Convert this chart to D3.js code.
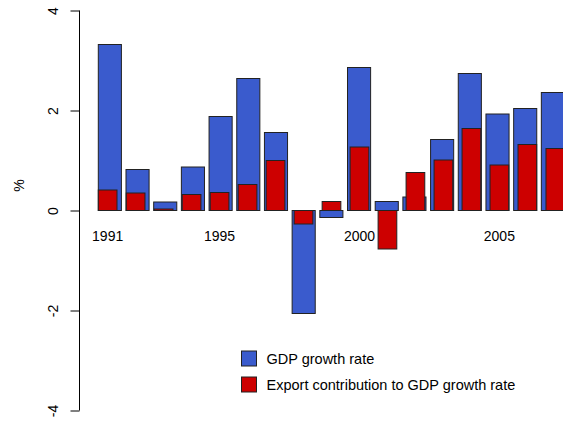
<!DOCTYPE html>
<html>
<head>
<meta charset="utf-8">
<script src="https://cdn.jsdelivr.net/npm/d3@7/dist/d3.min.js"></script>
<style>
  html, body { margin: 0; padding: 0; background: #fff; }
  svg { display: block; font-family: "Liberation Sans", Arial, Helvetica, sans-serif; }
</style>
</head>
<body>
<svg id="chart" width="563" height="423"></svg>
<script>
// Annual values, percent
const years = [1991, 1992, 1993, 1994, 1995, 1996, 1997, 1998, 1999,
               2000, 2001, 2002, 2003, 2004, 2005, 2006, 2007];
const gdpGrowth = [3.32, 0.82, 0.17, 0.87, 1.88, 2.64, 1.56, -2.06, -0.14,
                   2.86, 0.18, 0.27, 1.42, 2.74, 1.93, 2.04, 2.36];
const exportContribution = [0.41, 0.35, 0.03, 0.32, 0.36, 0.52, 1.00, -0.27, 0.18,
                            1.27, -0.77, 0.76, 1.01, 1.64, 0.91, 1.32, 1.24];
const yTicks = [-4, -2, 0, 2, 4];
const yearLabels = [1991, 1995, 2000, 2005];
const seriesNames = ["GDP growth rate", "Export contribution to GDP growth rate"];
const seriesColors = ["#3A5BCD", "#CD0000"];

const svg = d3.select("#chart");

const y = d3.scaleLinear().domain([-4, 4]).range([410.5, 10.5]);

// Wide bars for GDP, narrower bars for the export contribution drawn on top
function bandScale(start, step, width) {
  const p = 1 - width / step;
  return d3.scaleBand()
    .domain(years)
    .range([start, start + step * (years.length - p)])
    .paddingInner(p)
    .paddingOuter(0);
}
const xGdp = bandScale(98.3, 27.69, 23.1);
const xExp = bandScale(98.3, 27.98, 18.7);

function drawBars(cls, xs, values, color) {
  svg.append("g").attr("class", cls)
    .selectAll("rect")
    .data(years.map((yr, i) => ({ yr, v: values[i] })))
    .join("rect")
    .attr("x", d => xs(d.yr))
    .attr("width", xs.bandwidth())
    .attr("y", d => y(Math.max(0, d.v)))
    .attr("height", d => Math.abs(y(d.v) - y(0)))
    .attr("fill", color)
    .attr("stroke", "#222")
    .attr("stroke-width", 1);
}
drawBars("gdp", xGdp, gdpGrowth, seriesColors[0]);
drawBars("exp", xExp, exportContribution, seriesColors[1]);

// Left axis with rotated tick labels
const axis = svg.append("g")
  .attr("transform", "translate(79.5,0)")
  .call(d3.axisLeft(y).tickValues(yTicks).tickSize(9).tickFormat(""));
axis.select(".domain").attr("stroke", "#000").attr("d", `M-0,${y(4)}V${y(-4)}`);
axis.selectAll(".tick line").attr("stroke", "#000");
axis.selectAll(".tick").append("text")
  .attr("fill", "#000")
  .attr("text-anchor", "middle")
  .attr("font-size", 14)
  .attr("transform", "translate(-26,0) rotate(-90)")
  .attr("dy", "0.35em")
  .text(d => d);

svg.append("text")
  .attr("transform", `translate(19,${y(0.5)}) rotate(-90)`)
  .attr("text-anchor", "middle")
  .attr("dy", "0.35em")
  .attr("font-size", 14)
  .text("%");

// Year labels under the bars
svg.append("g").selectAll("text")
  .data(yearLabels)
  .join("text")
  .attr("x", d => xExp(d) + xExp.bandwidth() / 2)
  .attr("y", 241)
  .attr("text-anchor", "middle")
  .attr("font-size", 14)
  .text(d => d);

// Legend
const legend = svg.append("g").attr("transform", "translate(241.5,351)");
seriesNames.forEach((name, i) => {
  const g = legend.append("g").attr("transform", `translate(0,${i * 26})`);
  g.append("rect")
    .attr("width", 15).attr("height", 15)
    .attr("fill", seriesColors[i])
    .attr("stroke", "#222");
  g.append("text")
    .attr("x", 25).attr("y", 7.5)
    .attr("dy", "0.35em")
    .attr("font-size", 14.5)
    .text(name);
});
</script>
</body>
</html>
